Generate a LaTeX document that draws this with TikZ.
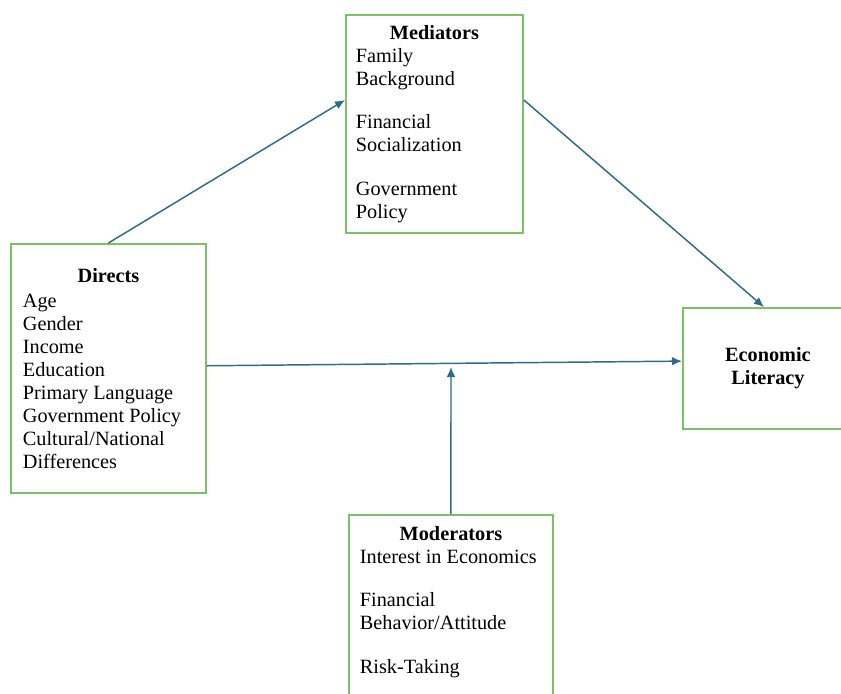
\documentclass[tikz,border=0pt]{standalone}
\usepackage{fontspec}
\setmainfont{Liberation Serif}
\usetikzlibrary{positioning,calc,arrows.meta}
\definecolor{frame}{HTML}{7CC068}
\definecolor{link}{HTML}{2C6B8A}

\begin{document}
\begin{tikzpicture}[x=0.75pt,y=-0.75pt,>={Latex[length=7.5pt,width=6.5pt]},
      box/.style={draw=frame,line width=1.4pt,anchor=north west,align=flush left,
                  font=\fontsize{15.2}{17.25}\selectfont,inner ysep=0pt},
      link/.style={->,draw=link,fill=link,line width=1.1pt}]
    \useasboundingbox (0,0) rectangle (841,693);
    \clip (0,0) rectangle (841,693);
    \node[box,inner xsep=7.5pt,text width=117.75pt,minimum height=163.5pt] (med) at (345,14)
      {\hfill\textbf{Mediators}\hfill\null\\ Family\\ Background\\[15.4pt]
       Financial\\ Socialization\\[15.4pt] Government\\ Policy};
    \node[box,inner xsep=9pt,text width=128.25pt,minimum height=186.75pt] (dir) at (10,243)
      {\hfill\textbf{Directs}\hfill\null\\[1.5pt] Age\\ Gender\\ Income\\ Education\\
       Primary Language\\ Government Policy\\ Cultural/National\\ Differences};
    \node[box,align=center,minimum width=127.5pt,minimum height=90.75pt,
          font=\fontsize{15.2}{17.25}\selectfont\bfseries] (lit) at (682,307) {Economic\\Literacy};
    \node[box,inner xsep=8.25pt,text width=136.5pt,minimum height=144.75pt] (mod) at (348,514)
      {\hfill\textbf{Moderators}\hfill\null\\ Interest in Economics\\[15.4pt]
       Financial\\ Behavior/Attitude\\[15.4pt] Risk-Taking\\ \null};
    \coordinate (hit) at (451,367);
    \draw[link] (dir.north) -- ([yshift=-64.5pt]med.north west);
    \draw[link] ([yshift=-64.5pt]med.north east) -- ([xshift=-3pt]lit.north);
    \draw[link] ([yshift=2pt]dir.east) -- ([yshift=5.5pt]lit.west);
    \draw[link] (mod.north) -- (hit);
  \end{tikzpicture}
\end{document}
